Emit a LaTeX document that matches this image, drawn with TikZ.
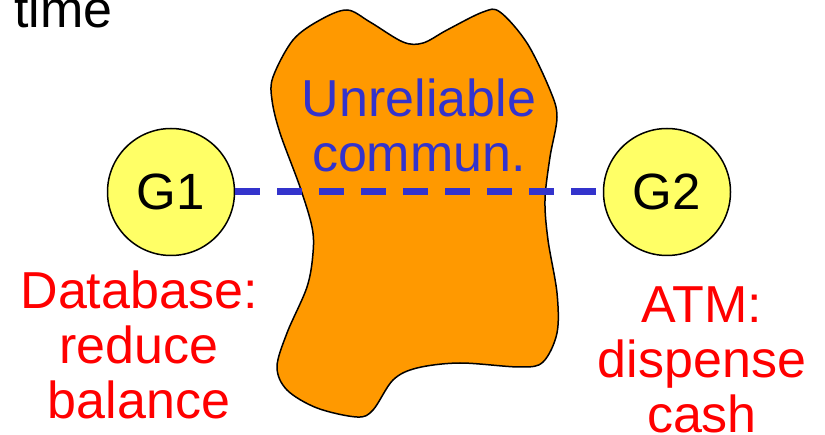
\documentclass[tikz,border=0pt]{standalone}
\usepackage{fontspec}
\setmainfont{Liberation Sans}
\definecolor{blobfill}{HTML}{FF9900}
\definecolor{nodefill}{HTML}{FFFF66}
\definecolor{linkblue}{HTML}{3333CC}
\definecolor{notered}{HTML}{FF0000}
\tikzset{
  big/.style={font=\fontsize{52}{55}\selectfont, inner sep=0pt, align=center},
  general/.style={circle, draw=black, line width=1.5pt, fill=nodefill,
    minimum size=127pt, inner sep=0pt, font=\fontsize{51}{55}\selectfont},
  link/.style={linkblue, line width=7pt, dash pattern=on 25pt off 17pt},
  action/.style={big, text=notered},
}
\begin{document}
\begin{tikzpicture}[x=1pt, y=-1pt]
\clip (0,0) rectangle (825,435);
\useasboundingbox (0,0) rectangle (825,435);

% the unreliable network cloud
\draw[fill=blobfill, line width=1.5pt] plot[smooth cycle, tension=0.55] coordinates {
  (293,40) (273,77) (272,100) (280,133) (300,187) (312,227) (313,253)
  (307,287) (287,333) (277,367) (287,390) (317,408) (357,417) (373,410)
  (393,380) (417,368) (460,363) (520,367) (543,362) (557,333) (557,293)
  (548,240) (545,200) (550,157) (557,117) (550,90) (527,43) (500,12)
  (483,12) (447,30) (423,43) (403,42) (370,22) (347,10) (320,20)};

\node[big, anchor=base west] (timelabel) at (14,28) {time};

\node[general] (G1) at (171,192) {G1};
\node[general] (G2) at (667,192) {G2};

\draw[link] (G1) -- (G2);

\node[big, text=linkblue, anchor=north] (net) at (419,79) {Unreliable\\commun.};

\node[action, anchor=north] (db) at (139,271) {Database:\\reduce\\balance};
\node[action, anchor=north] (atm) at (702,287) {ATM:\\dispense\\cash};
\end{tikzpicture}
\end{document}
